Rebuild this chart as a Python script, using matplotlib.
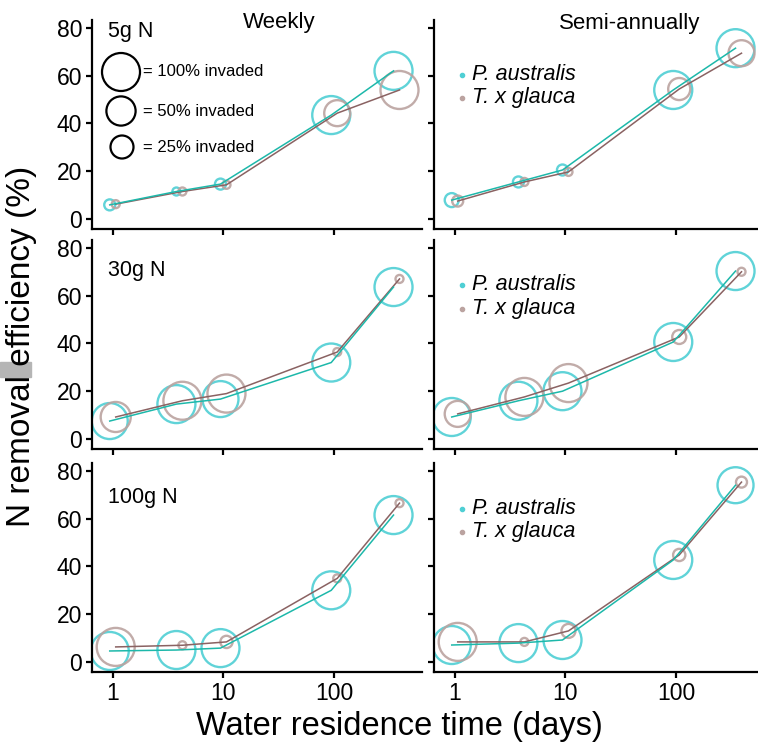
import numpy as np
import matplotlib
matplotlib.use("Agg")
import matplotlib.pyplot as plt
from matplotlib.patches import Rectangle

plt.rcParams['font.family'] = ['Liberation Sans', 'DejaVu Sans']

# residence time (days) for each mesocosm
days = [1, 4, 10, 100, 365]

# rows = N loading, cols = harvest regime
loads = ["5g N", "30g N", "100g N"]
regimes = ["Weekly", "Semi-annually"]

# N removal efficiency (%), P. australis
phrag_eff = {
    ("5g N", "Weekly"): [5.9, 11.5, 14.6, 43.5, 62.0],
    ("5g N", "Semi-annually"): [7.9, 15.5, 20.5, 54.0, 71.5],
    ("30g N", "Weekly"): [7.5, 14.6, 16.7, 32.0, 63.6],
    ("30g N", "Semi-annually"): [9.2, 16.0, 20.0, 40.6, 70.3],
    ("100g N", "Weekly"): [4.6, 5.0, 5.8, 30.0, 61.5],
    ("100g N", "Semi-annually"): [7.1, 7.9, 9.2, 42.7, 74.0],
}
# T. x glauca
typha_eff = {
    ("5g N", "Weekly"): [6.2, 11.5, 14.3, 44.3, 54.0],
    ("5g N", "Semi-annually"): [7.5, 15.5, 19.7, 54.4, 69.4],
    ("30g N", "Weekly"): [9.2, 16.0, 19.0, 36.4, 67.0],
    ("30g N", "Semi-annually"): [10.5, 17.6, 23.4, 42.7, 70.0],
    ("100g N", "Weekly"): [6.3, 7.0, 8.4, 35.0, 66.5],
    ("100g N", "Semi-annually"): [8.4, 8.4, 13.0, 44.8, 75.3],
}

# % invaded (circle size)
phrag_inv = {
    ("5g N", "Weekly"): [1, 0, 1, 100, 100],
    ("5g N", "Semi-annually"): [4, 1, 1, 100, 100],
    ("30g N", "Weekly"): [87, 100, 87, 100, 100],
    ("30g N", "Semi-annually"): [100, 100, 100, 100, 100],
    ("100g N", "Weekly"): [100, 100, 100, 100, 100],
    ("100g N", "Semi-annually"): [100, 100, 100, 100, 87],
}
typha_inv = {
    ("5g N", "Weekly"): [0, 0, 0, 36, 100],
    ("5g N", "Semi-annually"): [1, 0, 0, 22, 36],
    ("30g N", "Weekly"): [54, 100, 100, 0, 0],
    ("30g N", "Semi-annually"): [36, 100, 100, 4, 0],
    ("100g N", "Weekly"): [100, 0, 2, 0, 0],
    ("100g N", "Semi-annually"): [100, 0, 4, 2, 1],
}

key_sizes = [100, 50, 25]
key_labels = ["= 100% invaded", "= 50% invaded", "= 25% invaded"]

cyan_circ = "#4fcfd4"
gray_circ = "#bba3a0"
cyan_line = "#1db8aa"
brown_line = "#8a6262"


def size_pts(p):
    # radius in px grows with sqrt of invaded fraction
    p = np.asarray(p, dtype=float)
    r = 4 + 15 * np.sqrt(p / 100.0)
    d = 2 * r * 72 / 100.0
    return d ** 2


fig = plt.figure(figsize=(7.58, 7.48), dpi=100)
W, H = 758.0, 748.0
col_left = [92, 434]
row_top = [20, 240, 463]
pw, ph = 330, 209

dodge = 10 ** 0.027

for i, load in enumerate(loads):
    for j, reg in enumerate(regimes):
        ax = fig.add_axes([col_left[j] / W, 1 - (row_top[i] + ph) / H, pw / W, ph / H])
        key = (load, reg)
        xp = np.array(days) / dodge
        xt = np.array(days) * dodge
        ax.scatter(xp, phrag_eff[key], s=size_pts(phrag_inv[key]), facecolors='none',
                   edgecolors=cyan_circ, linewidths=1.7, alpha=0.9, zorder=2)
        ax.scatter(xt, typha_eff[key], s=size_pts(typha_inv[key]), facecolors='none',
                   edgecolors=gray_circ, linewidths=1.7, alpha=0.9, zorder=2)
        ax.plot(xt, typha_eff[key], color=brown_line, lw=1.1, zorder=3)
        ax.plot(xp, phrag_eff[key], color=cyan_line, lw=1.1, zorder=4)

        ax.set_xscale('log')
        ax.set_xlim(0.65, 620)
        ax.set_ylim(-4.2, 83.3)
        ax.xaxis.set_major_locator(matplotlib.ticker.FixedLocator([1, 10, 100]))
        ax.xaxis.set_minor_locator(matplotlib.ticker.NullLocator())
        ax.set_yticks([0, 20, 40, 60, 80])
        for s in ['top', 'right']:
            ax.spines[s].set_visible(False)
        for s in ['left', 'bottom']:
            ax.spines[s].set_linewidth(1.6)
        ax.tick_params(length=4, width=1.6, labelsize=16.5, pad=3, colors='black')
        if i == 2:
            ax.set_xticklabels(["1", "10", "100"])
        else:
            ax.set_xticklabels([])
        if j == 1:
            ax.set_yticklabels([])

        if j == 0:
            ty = [0.943, 0.856, 0.837][i]
            ax.text(0.048, ty, load, transform=ax.transAxes, fontsize=15.5,
                    ha='left', va='center')
        else:
            ly = [(0.737, 0.627), (0.785, 0.67), (0.78, 0.67)][i]
            ax.scatter([0.085], [ly[0]], s=9, color=cyan_circ, transform=ax.transAxes, clip_on=False)
            ax.scatter([0.085], [ly[1]], s=9, color=gray_circ, transform=ax.transAxes, clip_on=False)
            ax.text(0.115, ly[0], "P. australis", transform=ax.transAxes, fontsize=15.5,
                    style='italic', ha='left', va='center')
            ax.text(0.115, ly[1], "T. x glauca", transform=ax.transAxes, fontsize=15.5,
                    style='italic', ha='left', va='center')

        if i == 0 and j == 0:
            ky = [72, 111, 147]
            kx = [121, 121, 122]
            for k in range(3):
                ax.scatter([(kx[k] - 92) / pw], [(229 - ky[k]) / ph], s=size_pts([key_sizes[k]]),
                           facecolors='none', edgecolors='black', linewidths=1.6,
                           transform=ax.transAxes, clip_on=False)
                ax.text((143 - 92) / pw, (229 - ky[k]) / ph, key_labels[k], transform=ax.transAxes,
                        fontsize=12, ha='left', va='center')

fig.text(279 / W, 1 - 22.5 / H, "Weekly", fontsize=16, ha='center', va='center')
fig.text(630 / W, 1 - 23 / H, "Semi-annually", fontsize=16, ha='center', va='center')
fig.text(22 / W, 1 - 346 / H, "N removal efficiency (%)", fontsize=24, rotation=90,
         ha='center', va='center')
fig.text(399 / W, 1 - 727 / H, "Water residence time (days)", fontsize=23.5,
         ha='center', va='center')

# grey smudge at the left edge of the source image
fig.patches.append(Rectangle((0, 1 - 377 / H), 31 / W, 15 / H, transform=fig.transFigure,
                             color='#b5b5b5', zorder=0))

fig.savefig("out.png", dpi=100)
